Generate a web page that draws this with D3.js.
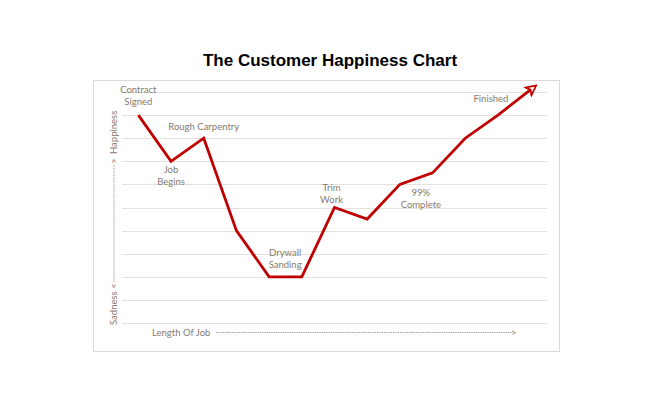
<!DOCTYPE html>
<html>
<head>
<meta charset="utf-8">
<script src="https://cdn.jsdelivr.net/npm/d3@7/dist/d3.min.js"></script>
<style>
  body { margin: 0; background: #fff; }
  svg text.lbl { font-family: Lato, "Open Sans", sans-serif; font-size: 9.5px; fill: #857b6e; }
</style>
</head>
<body>
<svg id="chart" width="660" height="399"></svg>
<script>
// ─── data ─────────────────────────────
const stages = ['s0','s1','s2','s3','s4','s5','s6','s7','s8','s9','s10','s11','s12'];
const happiness = [9, 7, 8, 4, 2, 2, 5, 4.5, 6, 6.5, 8, 9, 10.1];
const yTicks = [0,1,2,3,4,5,6,7,8,9,10];
// annotation: stage index, lines, offsets (in px from point)
const notes = [
  { i: 0, lines: ['Contract', 'Signed'], dx: 0, dy: -25 },
  { i: 1, lines: ['Job', 'Begins'], dx: 0, dy: 8 },
  { i: 2, lines: ['Rough Carpentry'], dx: 0, dy: -12 },
  { i: 4, lines: ['Drywall', 'Sanding'], dx: 16, dy: -24 },
  { i: 6, lines: ['Trim', 'Work'], dx: -3, dy: -20 },
  { i: 8, lines: ['99%', 'Complete'], dx: 21, dy: 8 },
  { i: 11, lines: ['Finished'], dx: -7, dy: -16 }
];

const svg = d3.select('#chart');
const box = { x: 93, y: 80, w: 466, h: 271 };
const plot = { left: 122, right: 547, top: 92, bottom: 323 };

// title
svg.append('text')
  .attr('x', 330).attr('y', 66)
  .attr('text-anchor', 'middle')
  .style('font-family', 'Arial, "Liberation Sans", sans-serif')
  .style('font-weight', 'bold').style('font-size', '17px')
  .attr('fill', '#000')
  .text('The Customer Happiness Chart');

// outer frame
svg.append('rect')
  .attr('x', box.x + 0.5).attr('y', box.y + 0.5)
  .attr('width', box.w).attr('height', box.h)
  .attr('fill', 'none').attr('stroke', '#dedbd5').attr('stroke-width', 1);

const x = d3.scaleBand().domain(stages).range([plot.left, plot.right]);
const y = d3.scaleLinear().domain([0, 10]).range([plot.bottom, plot.top]);

// gridlines
svg.append('g').selectAll('line')
  .data(yTicks).enter().append('line')
  .attr('x1', plot.left).attr('x2', plot.right)
  .attr('y1', d => Math.round(y(d)) + 0.5).attr('y2', d => Math.round(y(d)) + 0.5)
  .attr('stroke', '#e4e1db').attr('stroke-width', 1);

const cx = s => x(s) + x.bandwidth() / 2;

// y-axis label (rotated)
const yl = svg.append('g').attr('transform', 'translate(117,216) rotate(-90)');
yl.append('text').attr('class', 'lbl').attr('x', -109).attr('y', 0)
  .attr('text-anchor', 'start').text('Sadness');
yl.append('text').attr('class', 'lbl').attr('x', -70).attr('y', 0)
  .attr('text-anchor', 'middle').text('<');
yl.append('line').attr('x1', -66).attr('x2', 52).attr('y1', -3).attr('y2', -3)
  .attr('stroke', '#9c958a').attr('stroke-width', 1).attr('stroke-dasharray', '1.3,1');
yl.append('text').attr('class', 'lbl').attr('x', 55).attr('y', 0)
  .attr('text-anchor', 'middle').text('>');
yl.append('text').attr('class', 'lbl').attr('x', 62).attr('y', 0)
  .attr('text-anchor', 'start').text('Happiness');

// x-axis label
svg.append('text').attr('class', 'lbl').attr('x', 152).attr('y', 336).text('Length Of Job');
svg.append('line').attr('x1', 216).attr('x2', 512).attr('y1', 332.5).attr('y2', 332.5)
  .attr('stroke', '#9c958a').attr('stroke-width', 1).attr('stroke-dasharray', '1.3,1');
svg.append('text').attr('class', 'lbl').attr('x', 511).attr('y', 336).text('>');

// arrow marker
svg.append('defs').append('marker')
  .attr('id', 'arrow').attr('viewBox', '0 0 12 12')
  .attr('refX', 4).attr('refY', 6)
  .attr('markerWidth', 4.3).attr('markerHeight', 4.3)
  .attr('markerUnits', 'strokeWidth')
  .attr('orient', 'auto')
  .append('path')
  .attr('d', 'M1,1 L11,6 L1,11 L4,6 Z')
  .attr('fill', '#fff').attr('stroke', '#c00000').attr('stroke-width', 1.7)
  .attr('stroke-linejoin', 'miter');

// happiness line
const line = d3.line().x((d, i) => cx(stages[i])).y(d => y(d));
svg.append('path')
  .datum(happiness)
  .attr('d', line)
  .attr('fill', 'none')
  .attr('stroke', '#c00000')
  .attr('stroke-width', 2.8)
  .attr('stroke-linejoin', 'miter')
  .attr('marker-end', 'url(#arrow)');

// annotations
notes.forEach(n => {
  const t = svg.append('text').attr('class', 'lbl').attr('text-anchor', 'middle');
  n.lines.forEach((ln, k) => {
    t.append('tspan')
      .attr('x', cx(stages[n.i]) + n.dx)
      .attr('y', y(happiness[n.i]) + n.dy + k * 12)
      .attr('dy', '0.35em')
      .text(ln);
  });
});
</script>
</body>
</html>
